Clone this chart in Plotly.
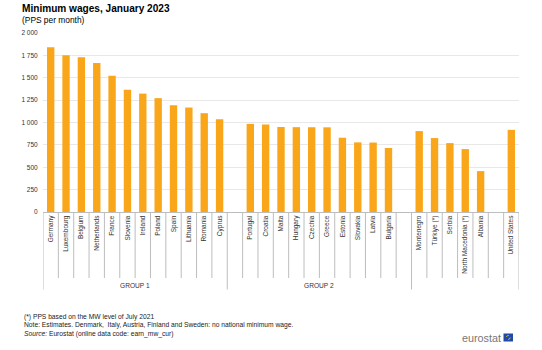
import plotly.graph_objects as go

# ---- data ----
group1_countries = ["Germany", "Luxembourg", "Belgium", "Netherlands", "France", "Slovenia",
                    "Ireland", "Poland", "Spain", "Lithuania", "Romania", "Cyprus"]
group1_values = [1842, 1752, 1730, 1664, 1522, 1367, 1323, 1272, 1193, 1167, 1104, 1037]

group2_countries = ["Portugal", "Croatia", "Malta", "Hungary", "Czechia", "Greece",
                    "Estonia", "Slovakia", "Latvia", "Bulgaria"]
group2_values = [985, 979, 950, 948, 947, 946, 830, 778, 776, 715]

group3_countries = ["Montenegro", "Türkiye (*)", "Serbia", "North Macedonia (*)", "Albania"]
group3_values = [904, 826, 770, 703, 457]

other_countries = ["United States"]
other_values = [918]

group_labels = ["GROUP 1", "GROUP 2", ""]

# ---- slot layout (blank slots between groups) ----
cats = group1_countries + [" "] + group2_countries + ["  "] + group3_countries + ["   "] + other_countries
vals = group1_values + [None] + group2_values + [None] + group3_values + [None] + other_values

g1_n = len(group1_countries)
g2_n = len(group2_countries) + 2
g3_n = len(group3_countries) + 1 + len(other_countries)
group_bounds = [-0.5, g1_n - 0.5, g1_n + g2_n - 0.5, g1_n + g2_n + g3_n - 0.5]

W, H = 542, 350
L, R, T, B = 43, 23, 33, 138
PW, PH = W - L - R, H - T - B

def px(x):
    return (x - L) / PW

def py(y):
    return (T + PH - y) / PH

FONT = "Arial, Liberation Sans, sans-serif"
ORANGE = "#FAA61A"
LINE = "#BDBDBD"

fig = go.Figure()
fig.add_trace(go.Bar(x=cats, y=vals, marker=dict(color=ORANGE, line=dict(width=0)),
                     hoverinfo="x+y"))

shapes = []
long_set = set(group_bounds)
for i in range(len(cats) + 1):
    b = i - 0.5
    y1 = py(289.5) if b in long_set else py(278)
    shapes.append(dict(type="line", xref="x", yref="paper", x0=b, x1=b, y0=0, y1=y1,
                       line=dict(color=LINE, width=1)))

annotations = []
for k, lab in enumerate(group_labels):
    if lab:
        annotations.append(dict(xref="x", yref="paper", x=(group_bounds[k] + group_bounds[k + 1]) / 2,
                                y=py(285.5), text=lab, showarrow=False,
                                font=dict(size=6.6, color="#333333", family=FONT),
                                xanchor="center", yanchor="middle"))

annotations += [
    dict(xref="paper", yref="paper", x=px(20), y=py(8.5), text="<b>Minimum wages, January 2023</b>",
         showarrow=False, xanchor="left", yanchor="middle", font=dict(size=10.1, color="#000000", family=FONT)),
    dict(xref="paper", yref="paper", x=px(20), y=py(19.8), text="(PPS per month)",
         showarrow=False, xanchor="left", yanchor="middle", font=dict(size=8.4, color="#000000", family=FONT)),
    dict(xref="paper", yref="paper", x=px(22), y=py(316.5), text="(*) PPS based on the MW level of July 2021",
         showarrow=False, xanchor="left", yanchor="middle", font=dict(size=6.7, color="#222222", family=FONT)),
    dict(xref="paper", yref="paper", x=px(22), y=py(325),
         text="Note: Estimates. Denmark,  Italy, Austria, Finland and Sweden: no national minimum wage.",
         showarrow=False, xanchor="left", yanchor="middle", font=dict(size=6.7, color="#222222", family=FONT)),
    dict(xref="paper", yref="paper", x=px(22), y=py(334),
         text="<i>Source:</i> Eurostat (online data code: earn_mw_cur)",
         showarrow=False, xanchor="left", yanchor="middle", font=dict(size=6.7, color="#222222", family=FONT)),
    dict(xref="paper", yref="paper", x=px(503), y=py(337.5), text="eurostat",
         showarrow=False, xanchor="right", yanchor="middle", font=dict(size=10.8, color="#777777", family=FONT)),
]

shapes.append(dict(type="rect", xref="paper", yref="paper", x0=px(503.5), x1=px(513), y0=py(341.5), y1=py(333.5),
                   fillcolor="#1F4AA8", line=dict(width=0)))
shapes.append(dict(type="circle", xref="paper", yref="paper", x0=px(506.3), x1=px(510.2), y0=py(339.4), y1=py(335.5),
                   fillcolor="rgba(0,0,0,0)", line=dict(color="#F2D21B", width=0.8, dash="dot")))

fig.update_layout(
    width=W, height=H,
    margin=dict(l=L, r=R, t=T, b=B, pad=0),
    paper_bgcolor="white", plot_bgcolor="white",
    separators=", ",
    showlegend=False,
    bargap=0.52,
    font=dict(family=FONT, size=6.5, color="#333333"),
    shapes=shapes,
    annotations=annotations,
    xaxis=dict(type="category", categoryorder="array", categoryarray=cats,
               tickangle=-90, tickfont=dict(size=6.5, color="#333333", family=FONT),
               showline=True, linecolor=LINE, linewidth=1, ticks="", showgrid=False,
               range=[-0.5, len(cats) - 0.5], fixedrange=True),
    yaxis=dict(range=[0, 2000], dtick=250, tickformat=",d", showgrid=True, gridcolor="#E8E8E8",
               gridwidth=1, zeroline=False, showline=False, ticks="outside", ticklen=3,
               tickcolor="rgba(0,0,0,0)",
               tickfont=dict(size=6.5, color="#333333", family=FONT), fixedrange=True),
)

fig.write_html("out.html")
